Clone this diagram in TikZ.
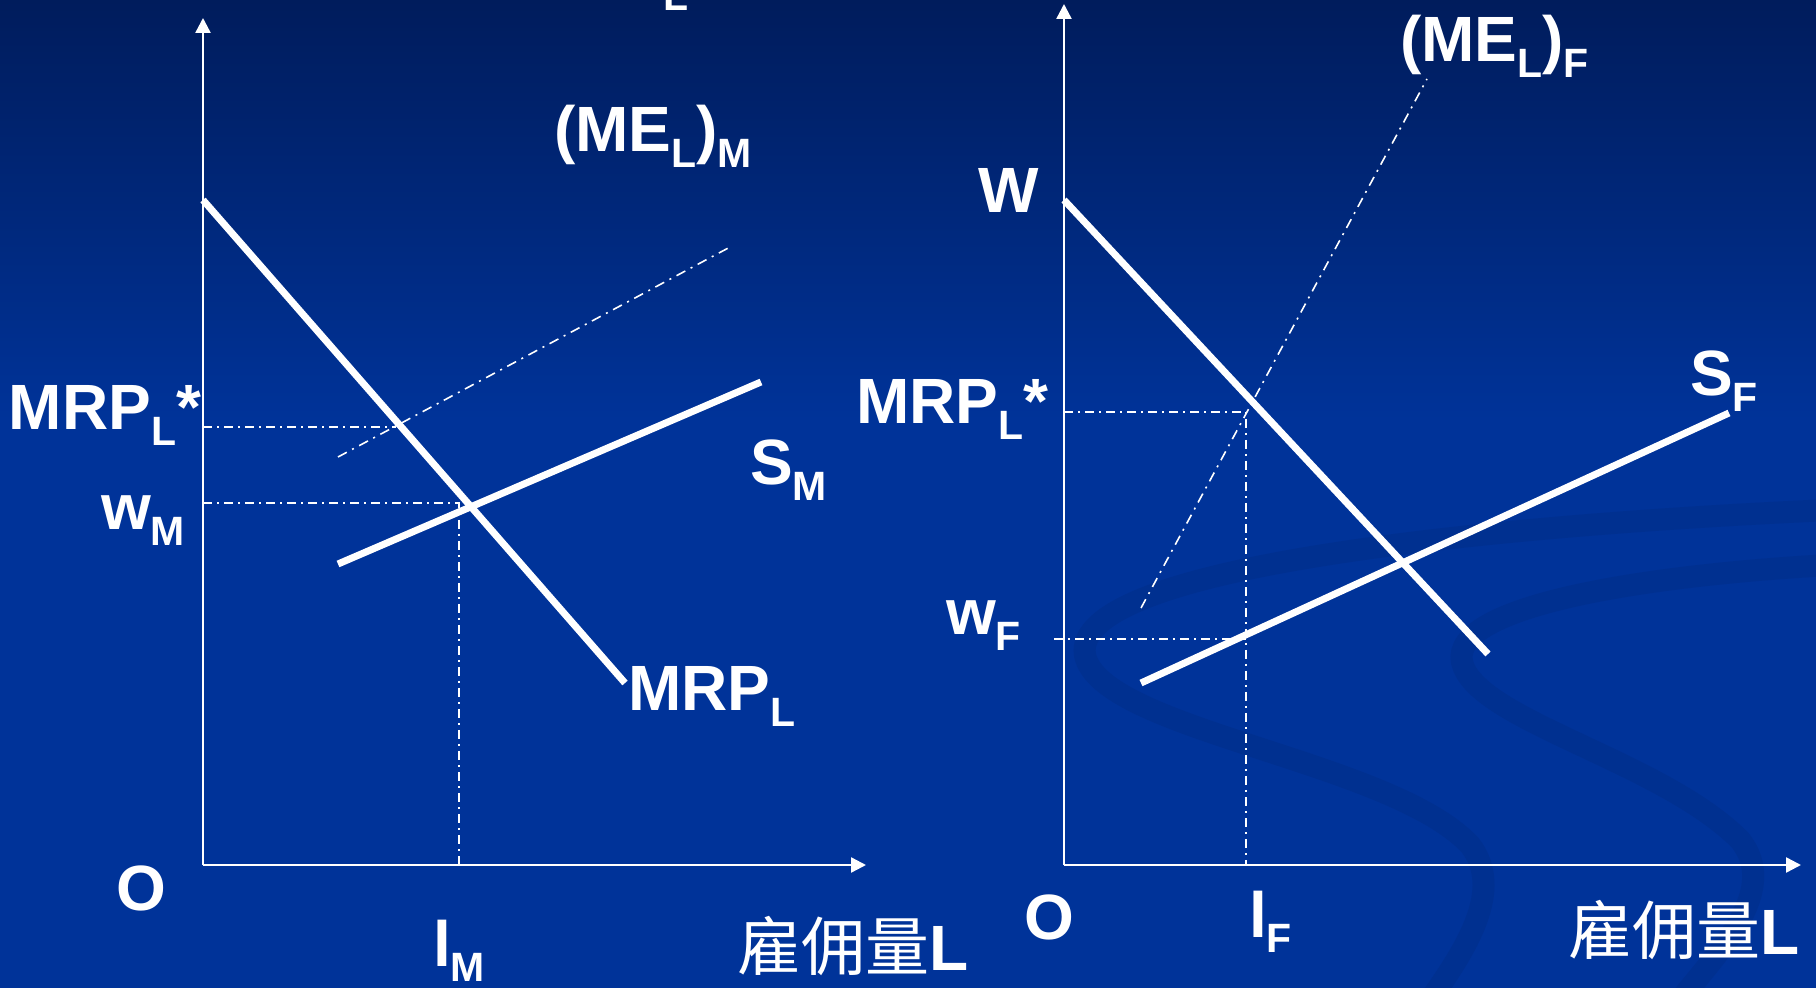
\documentclass[tikz,border=0pt]{standalone}
\usepackage{fontspec}
\setmainfont{Liberation Sans}
\newfontfamily\cjk{Noto Sans CJK SC}
\usetikzlibrary{arrows.meta}
\definecolor{bgblue}{HTML}{003399}
\definecolor{bgtop}{HTML}{001C5C}
\definecolor{ribbon}{HTML}{003090}
\newcommand\sbs[1]{\raisebox{-0.24em}{\scalebox{0.64}{#1}}}
\begin{document}
\begin{tikzpicture}[x=0.5pt,y=-0.5pt,
  lbl/.style={anchor=base west,inner sep=0pt,outer sep=0pt,text=white,font=\fontsize{32}{38}\selectfont\bfseries},
  axisline/.style={white,line width=1.2pt,-{Triangle[length=7.5pt,width=7.5pt]}},
  curveline/.style={white,line width=3.5pt},
  guide/.style={white,line width=0.9pt,dash pattern=on 4.5pt off 2.5pt on 1pt off 2.5pt},
  meline/.style={white,line width=0.8pt,dash pattern=on 5pt off 3pt on 1pt off 3pt},
  rib/.style={ribbon,line width=11pt,line cap=round}]
\useasboundingbox (0,0) rectangle (1816,988);
% background
\fill[bgblue] (0,0) rectangle (1816,988);
\shade[top color=bgtop,bottom color=bgblue] (0,0) rectangle (1816,420);
\draw[rib] (1830,510) .. controls (1500,525) and (1070,565) .. (1085,655)
  .. controls (1100,730) and (1390,760) .. (1470,845)
  .. controls (1505,890) and (1465,950) .. (1430,1000);
\draw[rib] (1830,565) .. controls (1650,575) and (1450,605) .. (1462,662)
  .. controls (1475,720) and (1660,760) .. (1740,840)
  .. controls (1780,890) and (1720,950) .. (1680,1000);
% top fragment of a title
\node[lbl] (topfrag) at (663,11) {\scalebox{0.64}{L}};
% ===== left panel =====
\coordinate (LO) at (203,865);
\coordinate (LYt) at (203,18);
\coordinate (LXt) at (866,865);
\draw[axisline] (LO) -- (LYt);
\draw[axisline] (LO) -- (LXt);
\coordinate (Lme1) at (338,457);
\coordinate (Lme2) at (732,246);
\draw[meline] (Lme1) -- (Lme2);
\coordinate (Lh1a) at (203,427);
\coordinate (Lh1b) at (396,427);
\draw[guide] (Lh1a) -- (Lh1b);
\coordinate (Lh2a) at (203,503);
\coordinate (Lh2b) at (459,503);
\coordinate (Lv2) at (459,865);
\draw[guide] (Lh2a) -- (Lh2b) -- (Lv2);
\coordinate (Lmrp1) at (203,200);
\coordinate (Lmrp2) at (625,683);
\draw[curveline] (Lmrp1) -- (Lmrp2);
\coordinate (Ls1) at (338,564);
\coordinate (Ls2) at (761,382);
\draw[curveline] (Ls1) -- (Ls2);
\node[lbl] (LmeLbl) at (554,152) {(ME\sbs{L})\sbs{M}};
\node[lbl] (LmrpStar) at (9,430) {MRP\sbs{L}*};
\node[lbl] (LwM) at (101,530) {w\sbs{M}};
\node[lbl] (LsM) at (750,485) {S\sbs{M}};
\node[lbl] (LmrpL) at (628,711) {MRP\sbs{L}};
\node[lbl] (LOlbl) at (116,910) {O};
\node[lbl] (LlM) at (433,966) {l\sbs{M}};
\node[lbl] (LxLbl) at (737,970) {{\cjk\mdseries 雇佣量}L};
% ===== right panel =====
\coordinate (RO) at (1064,865);
\coordinate (RYt) at (1064,4);
\coordinate (RXt) at (1801,865);
\draw[axisline] (RO) -- (RYt);
\draw[axisline] (RO) -- (RXt);
\coordinate (Rme1) at (1141,608);
\coordinate (Rme2) at (1427,79);
\draw[meline] (Rme1) -- (Rme2);
\coordinate (Rh1a) at (1064,412);
\coordinate (Rh1b) at (1246,412);
\coordinate (Rv1) at (1246,865);
\draw[guide] (Rh1a) -- (Rh1b) -- (Rv1);
\coordinate (Rh2a) at (1054,639);
\coordinate (Rh2b) at (1246,639);
\draw[guide] (Rh2a) -- (Rh2b);
\coordinate (Rmrp1) at (1064,200);
\coordinate (Rmrp2) at (1488,654);
\draw[curveline] (Rmrp1) -- (Rmrp2);
\coordinate (Rs1) at (1141,683);
\coordinate (Rs2) at (1729,413);
\draw[curveline] (Rs1) -- (Rs2);
\node[lbl] (RW) at (978,213) {W};
\node[lbl] (RmeLbl) at (1400,62) {(ME\sbs{L})\sbs{F}};
\node[lbl] (RmrpStar) at (856,424) {MRP\sbs{L}*};
\node[lbl] (RwF) at (946,635) {w\sbs{F}};
\node[lbl] (RsF) at (1690,396) {S\sbs{F}};
\node[lbl] (ROlbl) at (1024,939) {O};
\node[lbl] (RlF) at (1249,937) {l\sbs{F}};
\node[lbl] (RxLbl) at (1568,954) {{\cjk\mdseries 雇佣量}L};
\end{tikzpicture}
\end{document}
